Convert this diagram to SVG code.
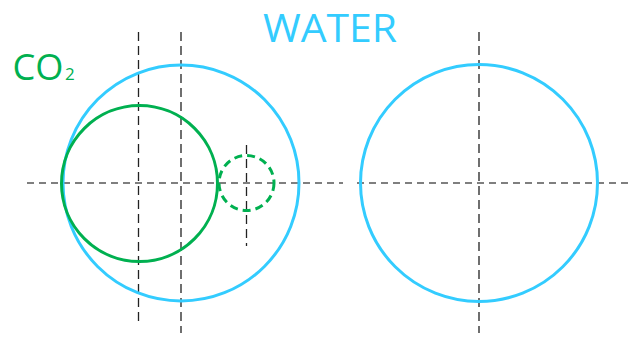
<svg xmlns="http://www.w3.org/2000/svg" width="636" height="338" viewBox="0 0 636 338">
<style>
.blue{fill:none;stroke:#33CCFF;stroke-width:3}
.green{fill:none;stroke:#00B050;stroke-width:3}
.gdash{fill:none;stroke:#00B050;stroke-width:3;stroke-dasharray:8 5}
.axis{stroke:#555;stroke-width:1.3;stroke-dasharray:7 5;fill:none}
.vaxis{stroke:#222;stroke-width:1.3;stroke-dasharray:9 5;fill:none}
text{font-family:"Open Sans","Noto Sans","Liberation Sans",sans-serif}
</style>
<rect width="636" height="338" fill="#fff"/>
<g id="axes">
<line class="axis" x1="27" y1="183" x2="343" y2="183"/>
<line class="axis" x1="357" y1="183" x2="633" y2="183"/>
<line class="vaxis" x1="138.5" y1="32" x2="138.5" y2="323"/>
<line class="vaxis" x1="181" y1="32" x2="181" y2="333"/>
<line class="vaxis" x1="246.5" y1="145" x2="246.5" y2="246"/>
<line class="vaxis" x1="479" y1="32" x2="479" y2="333"/>
</g>
<g id="water-left"><circle class="blue" cx="181" cy="183" r="118"/></g>
<g id="water-right"><circle class="blue" cx="479" cy="183" r="118.5"/></g>
<g id="co2"><circle class="green" cx="139.5" cy="183.5" r="78"/></g>
<g id="co2-small"><circle class="gdash" cx="246.5" cy="183" r="27.5"/></g>
<g id="labels">
<text x="263" y="41.5" font-size="39" fill="#33CCFF" textLength="134" lengthAdjust="spacingAndGlyphs">WATER</text>
<text x="12.5" y="80" font-size="36" fill="#00B050" textLength="51" lengthAdjust="spacingAndGlyphs">CO</text>
<text x="65" y="80" font-size="17" fill="#00B050">2</text>
</g>
</svg>
